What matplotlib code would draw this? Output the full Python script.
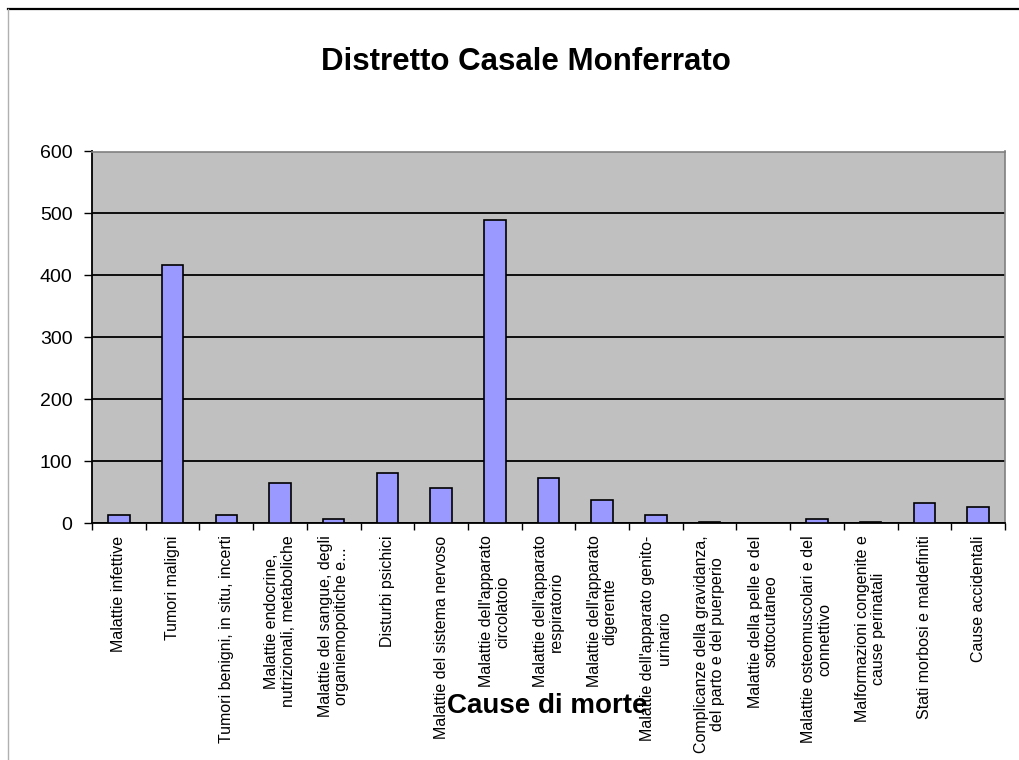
import matplotlib
matplotlib.use("Agg")
import matplotlib.pyplot as plt
from matplotlib.lines import Line2D
import numpy as np

plt.rcParams["font.family"] = ["Liberation Sans", "DejaVu Sans"]

cause = [
    "Malattie infettive",
    "Tumori maligni",
    "Tumori benigni, in situ, incerti",
    "Malattie endocrine,\nnutrizionali, metaboliche",
    "Malattie del sangue, degli\norganiemopoitiche e...",
    "Disturbi psichici",
    "Malattie del sistema nervoso",
    "Malattie dell'apparato\ncircolatoio",
    "Malattie dell'apparato\nrespiratorio",
    "Malattie dell'apparato\ndigerente",
    "Malattie dell'apparato genito-\nurinario",
    "Complicanze della gravidanza,\ndel parto e del puerperio",
    "Malattie della pelle e del\nsottocutaneo",
    "Malattie osteomuscolari e del\nconnettivo",
    "Malformazioni congenite e\ncause perinatali",
    "Stati morbosi e maldefiniti",
    "Cause accidentali",
]
decessi = [13, 416, 13, 64, 6, 81, 57, 489, 73, 37, 13, 2, 0, 6, 2, 33, 26]
y_ticks = [0, 100, 200, 300, 400, 500, 600]

fig = plt.figure(figsize=(10.19, 7.6), dpi=100)
fig.patch.set_facecolor("white")

# cornice del grafico (tagliata a destra e in basso)
fig.add_artist(Line2D([8 / 1019, 1], [1 - 9 / 760, 1 - 9 / 760], color="black", lw=1.6))
fig.add_artist(Line2D([8 / 1019, 8 / 1019], [0, 1 - 9 / 760], color="#b0b0b0", lw=1.0))

ax = fig.add_axes([92 / 1019, 237 / 760, 913 / 1019, 371.5 / 760])
ax.set_facecolor("#c0c0c0")

x = np.arange(len(cause))
ax.bar(x, decessi, width=0.4, color="#9999ff", edgecolor="black", linewidth=1.2, zorder=3)

ax.set_xlim(-0.5, len(cause) - 0.5)
ax.set_ylim(0, 600)
ax.set_yticks(y_ticks)
ax.yaxis.grid(True, color="black", linewidth=1.3, zorder=1)
ax.tick_params(axis="y", labelsize=14, length=6, width=1, pad=8, direction="out")

ax.set_xticks(x)
ax.set_xticklabels(cause, rotation=90, ha="center", va="top", multialignment="center",
                   fontsize=11.5, linespacing=1.1)
ax.set_xticks(np.arange(-0.5, len(cause)), minor=True)
ax.tick_params(axis="x", which="major", length=0, pad=9)
ax.tick_params(axis="x", which="minor", length=5, width=1, direction="out")

for side in ["top", "right"]:
    ax.spines[side].set_color("#808080")
    ax.spines[side].set_linewidth(1.2)
for side in ["left", "bottom"]:
    ax.spines[side].set_color("black")
    ax.spines[side].set_linewidth(1.3)

fig.text(526 / 1019, 1 - 62 / 760, "Distretto Casale Monferrato", ha="center", va="center",
         fontsize=22.5, fontweight="bold")
fig.text(547 / 1019, 1 - 706 / 760, "Cause di morte", ha="center", va="center",
         fontsize=20, fontweight="bold", zorder=5)

fig.savefig("out.png", dpi=100)
